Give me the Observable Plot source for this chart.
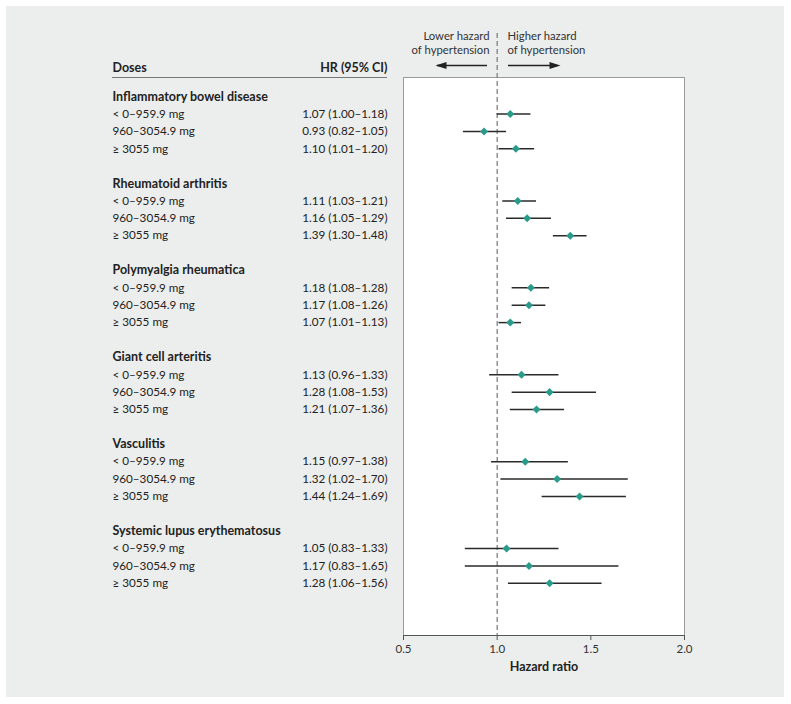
<!DOCTYPE html>
<html>
<head>
<meta charset="utf-8">
<script src="https://cdn.jsdelivr.net/npm/d3@7"></script>
<script src="https://cdn.jsdelivr.net/npm/@observablehq/plot@0.6"></script>
<style>
  body { margin: 0; background: #fff; }
  #wrap { position: relative; width: 791px; height: 704px; }
  #panel { position: absolute; left: 6px; top: 6px; width: 778px; height: 691px; background: #eceeed; }
  #chart { position: absolute; left: 0; top: 0; }
</style>
</head>
<body>
<div id="wrap"><div id="panel"></div><div id="chart"></div></div>
<script>
// ---- data ----
const groups = ["Inflammatory bowel disease", "Rheumatoid arthritis", "Polymyalgia rheumatica", "Giant cell arteritis", "Vasculitis", "Systemic lupus erythematosus"];
const doses = ["< 0–959.9 mg", "960–3054.9 mg", "≥ 3055 mg"];
const hr = [1.07, 0.93, 1.10, 1.11, 1.16, 1.39, 1.18, 1.17, 1.07, 1.13, 1.28, 1.21, 1.15, 1.32, 1.44, 1.05, 1.17, 1.28];
const lo = [1.00, 0.82, 1.01, 1.03, 1.05, 1.30, 1.08, 1.08, 1.01, 0.96, 1.08, 1.07, 0.97, 1.02, 1.24, 0.83, 0.83, 1.06];
const hi = [1.18, 1.05, 1.20, 1.21, 1.29, 1.48, 1.28, 1.26, 1.13, 1.33, 1.53, 1.36, 1.38, 1.70, 1.69, 1.33, 1.65, 1.56];
const xTicks = [0.5, 1.0, 1.5, 2.0];
const refLine = 1.0;

// ---- table built from arrays ----
const headers = groups.map((g, gi) => ({label: g, row: gi * 5}));
const rows = [];
groups.forEach((g, gi) => {
  doses.forEach((d, di) => {
    const k = gi * 3 + di;
    rows.push({
      group: g, dose: d, row: gi * 5 + 1 + di,
      hr: hr[k], lo: lo[k], hi: hi[k],
      text: `${hr[k].toFixed(2)} (${lo[k].toFixed(2)}–${hi[k].toFixed(2)})`
    });
  });
});

// ---- layout ----
const W = 791, H = 704;
const mL = 403, mR = W - 684, mT = 77, mB = H - 635;
const yDom = [-1.1, 31];
const xDom = [0.5, 2.0];
const pxPerX = (W - mL - mR) / (xDom[1] - xDom[0]);
const pxPerY = (H - mT - mB) / (yDom[1] - yDom[0]);
const X = px => xDom[0] + (px - mL) / pxPerX;   // pixel -> x value (layout only)
const Y = py => yDom[0] + (py - mT) / pxPerY;   // pixel -> row value (layout only)

const headRight = {draw(ctx) { ctx.moveTo(0, 0); ctx.lineTo(-11, -3.6); ctx.lineTo(-11, 3.6); ctx.closePath(); }};
const headLeft = {draw(ctx) { ctx.moveTo(0, 0); ctx.lineTo(11, -3.6); ctx.lineTo(11, 3.6); ctx.closePath(); }};

const ink = "#222";
const teal = "#2a9a8a";
const font = "Lato";
const rowFont = 11.7;

const chart = Plot.plot({
  width: W, height: H,
  marginLeft: mL, marginRight: mR, marginTop: mT, marginBottom: mB,
  style: {background: "transparent", fontFamily: font, fontSize: "12.5px", color: ink, overflow: "visible"},
  x: {domain: xDom, axis: null},
  y: {domain: yDom, reverse: true, axis: null},
  marks: [
    Plot.frame({fill: "white", stroke: "#9a9a9a"}),
    Plot.ruleY([yDom[1]], {stroke: "#555", strokeWidth: 1.2}),
    Plot.axisX({ticks: xTicks, tickFormat: d3.format(".1f"), tickSize: 5, tickPadding: 4, label: null, fontSize: 11.5, stroke: "#555", fill: "#333"}),
    Plot.text(["Hazard ratio"], {frameAnchor: "bottom", dy: 35, fontWeight: "bold", fontSize: 12.5, fill: ink}),
    // reference line
    Plot.ruleX([refLine], {y1: Y(33), y2: yDom[1], stroke: "#777", strokeWidth: 1.2, strokeDasharray: "5,3"}),
    // direction arrows
    Plot.ruleY([Y(65)], {x1: X(437), x2: X(487), stroke: ink, strokeWidth: 1.5}),
    Plot.ruleY([Y(65)], {x1: X(508), x2: X(557), stroke: ink, strokeWidth: 1.5}),
    Plot.dot([0], {x: () => X(435), y: () => Y(65), symbol: headLeft, fill: ink, stroke: null}),
    Plot.dot([0], {x: () => X(560), y: () => Y(65), symbol: headRight, fill: ink, stroke: null}),
    Plot.text(["Lower hazard", "of hypertension"], {x: X(489), y: (d, i) => Y(36 + i * 13.5), textAnchor: "end", fontSize: 11.3, fill: "#333"}),
    Plot.text(["Higher hazard", "of hypertension"], {x: X(507), y: (d, i) => Y(36 + i * 13.5), textAnchor: "start", fontSize: 11.3, fill: "#333"}),
    // table header
    Plot.text(["Doses"], {x: X(112), y: Y(67), textAnchor: "start", fontWeight: "bold", fill: ink}),
    Plot.text(["HR (95% CI)"], {x: X(387), y: Y(67), textAnchor: "end", fontWeight: "bold", fill: ink}),
    Plot.ruleY([Y(77)], {x1: X(112), x2: X(387), stroke: "#777", strokeWidth: 1}),
    // group headers
    Plot.text(headers, {x: X(112), y: "row", text: "label", textAnchor: "start", fontWeight: "bold", fill: ink}),
    // rows
    Plot.text(rows, {x: X(112), y: "row", text: "dose", textAnchor: "start", fontSize: rowFont, fill: ink}),
    Plot.text(rows, {x: X(387), y: "row", text: "text", textAnchor: "end", fontSize: rowFont, fill: ink}),
    // CIs and points
    Plot.ruleY(rows, {y: "row", x1: "lo", x2: "hi", stroke: "#2a2a2a", strokeWidth: 1.5}),
    Plot.dot(rows, {x: "hr", y: "row", symbol: "square", rotate: 45, r: 3.2, fill: teal, stroke: null})
  ]
});
document.getElementById("chart").appendChild(chart);
</script>
</body>
</html>
